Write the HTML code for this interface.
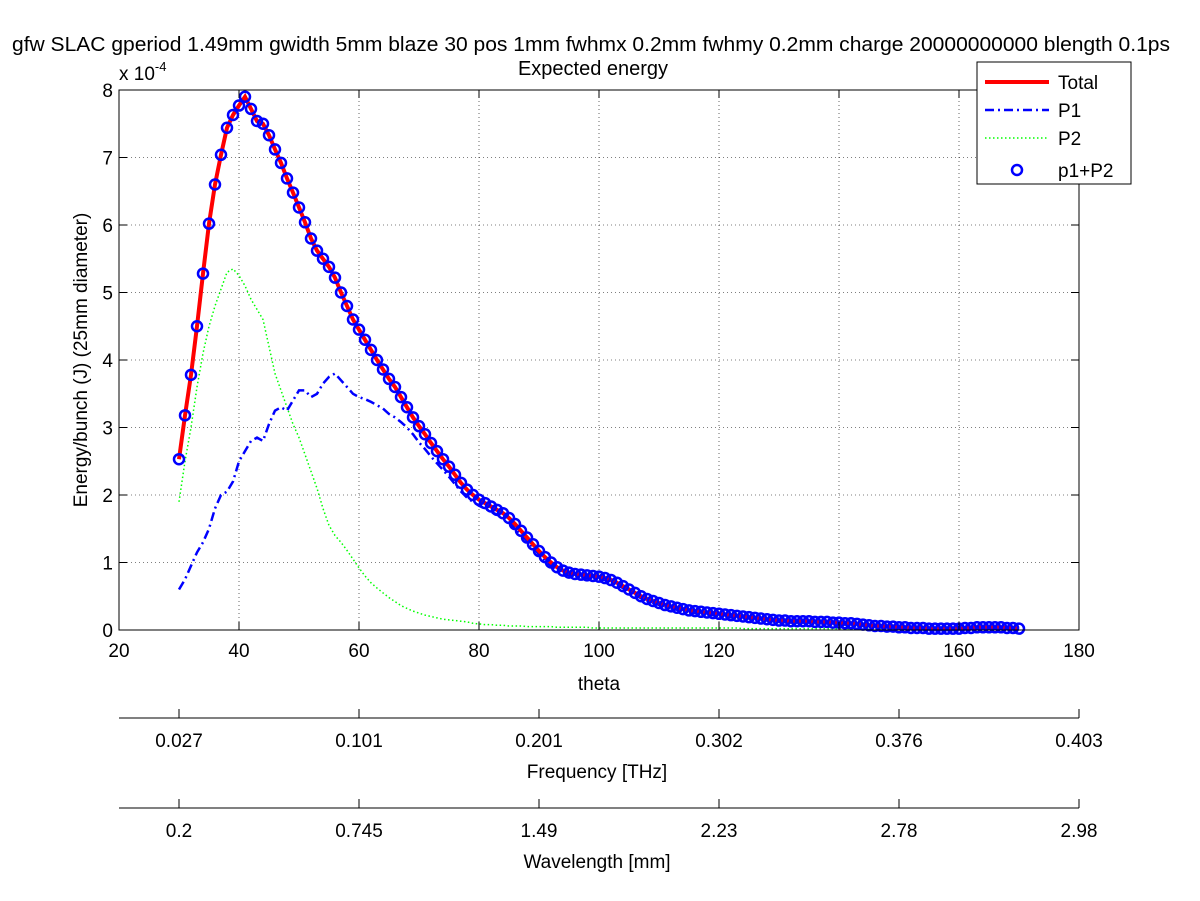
<!DOCTYPE html>
<html><head><meta charset="utf-8"><style>
html,body{margin:0;padding:0;background:#fff;}
svg{display:block;font-family:"Liberation Sans",sans-serif;}
</style></head><body>
<svg id="chart" width="1200" height="901" viewBox="0 0 1200 901" xmlns="http://www.w3.org/2000/svg">
<rect width="1200" height="901" fill="#fff"/>
<text x="591" y="51" font-size="20" text-anchor="middle" textLength="1158" lengthAdjust="spacingAndGlyphs">gfw SLAC gperiod 1.49mm gwidth 5mm blaze 30 pos 1mm fwhmx 0.2mm fwhmy 0.2mm charge 20000000000 blength 0.1ps</text>
<text x="593" y="75" font-size="20" text-anchor="middle">Expected energy</text>
<g id="grid"></g>
<g id="series"></g>
<rect x="119" y="90" width="960" height="540" fill="none" stroke="#000" stroke-width="1"/>
<g id="axes"></g>
<text x="119" y="80" font-size="19">x 10<tspan dy="-9" font-size="13">-4</tspan></text>
<text transform="translate(87,360) rotate(-90)" font-size="19" text-anchor="middle">Energy/bunch (J) (25mm diameter)</text>
<text x="599" y="690" font-size="19" text-anchor="middle">theta</text>
<text x="597" y="778" font-size="19" text-anchor="middle">Frequency [THz]</text>
<text x="597" y="868" font-size="19" text-anchor="middle">Wavelength [mm]</text>
<g>
<rect x="977" y="62" width="154" height="122" fill="#fff" stroke="#000"/>
<line x1="985" y1="82" x2="1049" y2="82" stroke="#f00" stroke-width="4"/>
<text x="1058" y="89" font-size="19">Total</text>
<line x1="985" y1="110" x2="1049" y2="110" stroke="#00f" stroke-width="2.5" stroke-dasharray="9,4,2,4"/>
<text x="1058" y="117" font-size="19">P1</text>
<line x1="985" y1="138" x2="1049" y2="138" stroke="#0f0" stroke-width="1.5" stroke-dasharray="1.5,2.5"/>
<text x="1058" y="145" font-size="19">P2</text>
<circle cx="1017" cy="170" r="5" fill="none" stroke="#00f" stroke-width="2.5"/>
<text x="1058" y="177" font-size="19">p1+P2</text>
</g>
</svg>
<script>
const xTicks=[20,40,60,80,100,120,140,160,180];
const yTicks=[0,1,2,3,4,5,6,7,8];
const freqLabels=["0.027","0.101","0.201","0.302","0.376","0.403"];
const waveLabels=["0.2","0.745","1.49","2.23","2.78","2.98"];
const secTickTheta=[30,60,90,120,150,180];
const thetaStart=30;
const total=[2.53,3.18,3.78,4.5,5.28,6.02,6.6,7.04,7.44,7.63,
7.77,7.9,7.72,7.54,7.5,7.33,7.12,6.92,6.69,6.48,
6.26,6.04,5.8,5.62,5.5,5.38,5.22,5.0,4.8,4.6,
4.45,4.3,4.15,4.0,3.86,3.72,3.6,3.45,3.3,3.15,
3.02,2.9,2.77,2.65,2.53,2.42,2.3,2.18,2.08,2.0,
1.93,1.88,1.83,1.78,1.73,1.66,1.57,1.47,1.37,1.27,
1.17,1.08,1.0,.93,.88,.85,.83,.82,.81,.8,
.79,.77,.74,.7,.65,.6,.55,.5,.46,.43,
.4,.37,.35,.33,.31,.29,.28,.27,.26,.25,
.24,.23,.22,.21,.2,.19,.18,.17,.16,.15,
.14,.14,.13,.13,.13,.13,.12,.12,.12,.11,
.11,.1,.1,.09,.08,.07,.06,.06,.05,.05,
.04,.04,.03,.03,.03,.02,.02,.02,.02,.02,
.02,.03,.03,.04,.04,.04,.04,.04,.03,.03,.02];
const p1=[.6,.75,.95,1.15,1.3,1.5,1.8,2.0,2.05,2.2,
2.5,2.65,2.8,2.85,2.8,3.05,3.25,3.3,3.25,3.4,
3.55,3.55,3.45,3.5,3.65,3.75,3.8,3.7,3.6,3.5,
3.45,3.42,3.38,3.33,3.28,3.2,3.15,3.08,3.0,2.9,
2.78,2.68,2.57,2.47,2.37,2.27,2.16,2.05,1.96,1.9,
1.84,1.8,1.75,1.71,1.66,1.6,1.51,1.41,1.32,1.22,
1.12,1.03,.95,.89,.84,.81,.79,.78,.77,.77,
.76,.74,.71,.67,.62,.57,.52,.47,.43,.4,
.37,.34,.32,.3,.28,.26,.25,.24,.23,.22,
.21,.2,.19,.18,.18,.17,.16,.15,.14,.13,
.12,.12,.11,.11,.11,.11,.1,.1,.1,.09,
.09,.08,.08,.07,.06,.06,.05,.05,.04,.04,
.03,.03,.02,.02,.02,.01,.01,.01,.01,.01,
.01,.02,.02,.03,.03,.03,.03,.03,.02,.02,.01];
const p2=[1.9,2.5,3.0,3.6,4.1,4.5,4.8,5.05,5.3,5.35,
5.25,5.1,4.9,4.75,4.6,4.2,3.8,3.55,3.3,3.05,
2.85,2.6,2.35,2.1,1.8,1.55,1.4,1.3,1.18,1.05,
.92,.8,.7,.62,.55,.48,.42,.36,.32,.28,
.25,.22,.2,.18,.16,.15,.14,.13,.12,.1,
.09,.08,.08,.07,.07,.06,.06,.06,.05,.05,
.05,.05,.05,.04,.04,.04,.04,.04,.04,.03,
.03,.03,.03,.03,.03,.03,.03,.03,.03,.03,
.03,.03,.03,.03,.03,.03,.03,.03,.03,.03,
.03,.03,.03,.03,.02,.02,.02,.02,.02,.02,
.02,.02,.02,.02,.02,.02,.02,.02,.02,.02,
.02,.02,.02,.02,.02,.01,.01,.01,.01,.01,
.01,.01,.01,.01,.01,.01,.01,.01,.01,.01,
.01,.01,.01,.01,.01,.01,.01,.01,.01,.01,.01];

const NS="http://www.w3.org/2000/svg";
const X0=119,X1=1079,Y0=630,Y1=90;
function xs(v){return X0+(v-20)/(180-20)*(X1-X0);}
function ys(v){return Y0-(v-0)/(8-0)*(Y0-Y1);}
function mk(tag,attrs,parent){const e=document.createElementNS(NS,tag);for(const k in attrs)e.setAttribute(k,attrs[k]);parent.appendChild(e);return e;}
const grid=document.getElementById('grid'),axes=document.getElementById('axes'),ser=document.getElementById('series');

xTicks.forEach((t,i)=>{
  const x=xs(t);
  if(i>0&&i<xTicks.length-1){const g=mk('line',{x1:x,y1:Y0,x2:x,y2:Y1,stroke:'#000','stroke-width':0.6,'stroke-dasharray':'1,3'},grid);
  
  }
  mk('line',{x1:x,y1:Y0,x2:x,y2:Y0-8,stroke:'#000'},axes);
  mk('line',{x1:x,y1:Y1,x2:x,y2:Y1+8,stroke:'#000'},axes);
  const l=mk('text',{x:x,y:Y0+27,'font-size':19,'text-anchor':'middle'},axes);
  l.textContent=t;
  
  
});
yTicks.forEach((t,i)=>{
  const y=ys(t);
  if(i>0&&i<yTicks.length-1){const g=mk('line',{x1:X0,y1:y,x2:X1,y2:y,stroke:'#000','stroke-width':0.6,'stroke-dasharray':'1,3'},grid);
  
  }
  mk('line',{x1:X0,y1:y,x2:X0+8,y2:y,stroke:'#000'},axes);
  mk('line',{x1:X1,y1:y,x2:X1-8,y2:y,stroke:'#000'},axes);
  const l=mk('text',{x:X0-6,y:y+7,'font-size':19,'text-anchor':'end'},axes);
  l.textContent=t;
  
  
});
function secAxis(yLine,labels,name){
  const ln=mk('line',{x1:X0,y1:yLine,x2:X1,y2:yLine,stroke:'#000'},axes);
  
  
  secTickTheta.forEach((t,i)=>{
    const x=xs(t);
    mk('line',{x1:x,y1:yLine,x2:x,y2:yLine-9,stroke:'#000'},axes);
    const l=mk('text',{x:x,y:yLine+29,'font-size':19,'text-anchor':'middle'},axes);
    l.textContent=labels[i];
    
    
  });
}
secAxis(718,freqLabels,'frequency');
secAxis(808,waveLabels,'wavelength');

function pathOf(arr){return arr.map((v,i)=>(i?'L':'M')+xs(thetaStart+i).toFixed(1)+','+ys(v).toFixed(1)).join(' ');}
const pP2=mk('path',{d:pathOf(p2),fill:'none',stroke:'#0f0','stroke-width':1.5,'stroke-dasharray':'1.5,2.5'},ser);


const pP1=mk('path',{d:pathOf(p1),fill:'none',stroke:'#00f','stroke-width':2.5,'stroke-dasharray':'9,4,2,4'},ser);


const pT=mk('path',{d:pathOf(total),fill:'none',stroke:'#f00','stroke-width':4},ser);


total.forEach((v,i)=>{
  const c=mk('circle',{cx:xs(thetaStart+i),cy:ys(v),r:5,fill:'none',stroke:'#00f','stroke-width':2.5},ser);
  
  
});
</script>
</body></html>
